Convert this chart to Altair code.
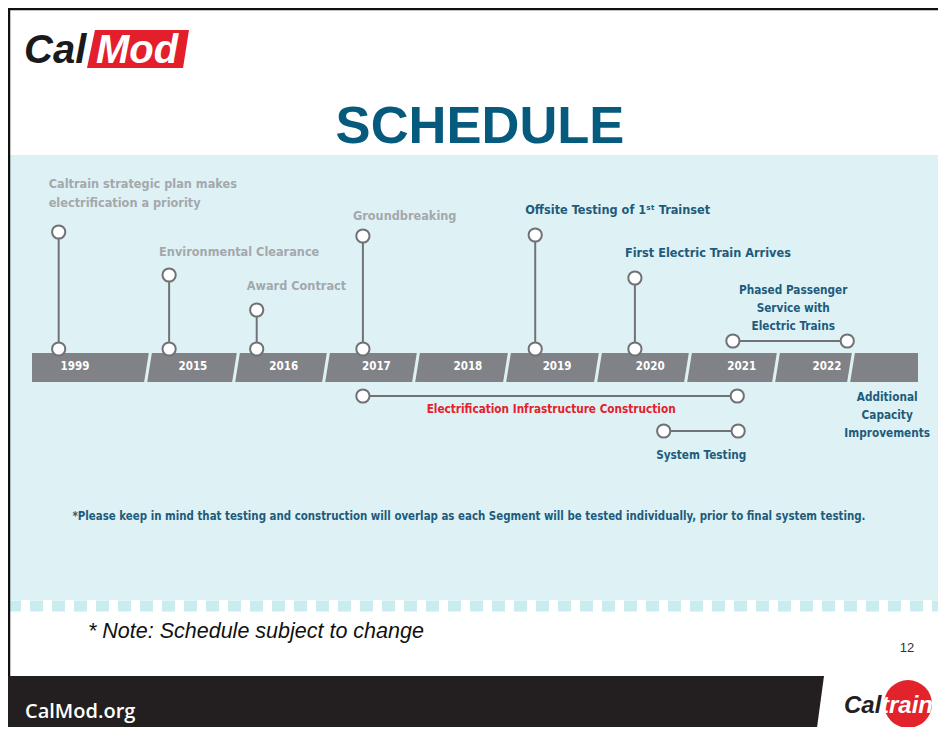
import altair as alt
import pandas as pd

# ---------------- values ----------------
YEAR_LABELS = ["1999", "2015", "2016", "2017", "2018", "2019", "2020", "2021", "2022"]
SEGMENT_BREAKS = [2015, 2016, 2017, 2018, 2019, 2020, 2021, 2022, 2023]

MILESTONES = [
    "Caltrain strategic plan makes\nelectrification a priority",
    "Environmental Clearance",
    "Award Contract",
    "Groundbreaking",
    "Offsite Testing of 1\u02e2\u1d57 Trainset",
    "First Electric Train Arrives",
]
MILESTONE_DATES = [1999.23, 2015.24, 2016.23, 2017.41, 2019.31, 2020.41]
MILESTONE_STATUS = ["done", "done", "done", "done", "upcoming", "upcoming"]

PHASES = [
    "Electrification Infrastructure Construction",
    "System Testing",
    "Phased Passenger\nService with\nElectric Trains",
]
PHASE_START = [2017.41, 2020.73, 2021.51]
PHASE_END = [2021.56, 2021.57, 2022.95]
PHASE_KIND = ["construction", "upcoming", "upcoming"]

FUTURE_LABEL = "Additional\nCapacity\nImprovements"
FUTURE_AT = 2023.54

FOOTNOTE = ("*Please keep in mind that testing and construction will overlap as each "
            "Segment will be tested individually, prior to final system testing.")

# ---------------- layout (slide pixels) ----------------
W, H = 930, 719
OX, OY = 8, 8
SLOT_DOMAIN = [1999, 2000, 2015, 2016, 2017, 2018, 2019, 2020, 2021, 2022, 2023, 2024]
SLOT_PX = [32, 148, 148, 236, 326, 416, 507, 598, 688, 776, 851, 918]
YEAR_LABEL_AT = [1999.37, 2015.51, 2016.53, 2017.56, 2018.57, 2019.55, 2020.58, 2021.61, 2022.68]
BAND_TOP, BAND_BOTTOM, BAND_MID = 353, 382, 367
STEM_BASE = 349
MILESTONE_TOP_Y = [232, 275, 310, 236, 235, 278]
MILESTONE_LABEL_Y = [184, 252, 286, 216, 210, 253]   # first line of each label
PHASE_Y = [396, 431, 341]
PHASE_LABEL_Y = [409, 455, 290]
FUTURE_Y = 397

PANEL = "#def2f5"
GRAY_BAND = "#808287"
STEM = "#707276"
DONE = "#a4a8ac"
BLUE = "#1e5b7c"
RED = "#e4202b"
NARROW = "Liberation Sans Narrow, DejaVu Sans Condensed, Roboto, sans-serif"
SANS = "Liberation Sans, Arial, sans-serif"

PXS = alt.Scale(domain=[OX, OX + W], range=[0, W], nice=False, zero=False)
PYS = alt.Scale(domain=[OY, OY + H], range=[0, H], nice=False, zero=False)
TS = alt.Scale(domain=SLOT_DOMAIN, range=[p - OX for p in SLOT_PX], nice=False, zero=False)


def X(f):
    return alt.X(f"{f}:Q", scale=PXS, axis=None)


def Y(f):
    return alt.Y(f"{f}:Q", scale=PYS, axis=None)


def T(f):
    return alt.X(f"{f}:Q", scale=TS, axis=None)


def label(text, x, y, **kw):
    df = pd.DataFrame({"x": [x], "y": [y], "t": [text]})
    return alt.Chart(df).mark_text(**kw).encode(x=X("x"), y=Y("y"), text="t:N")


def box(x1, x2, y1, y2, color):
    df = pd.DataFrame({"x": [x1], "x2": [x2], "y": [y1], "y2": [y2]})
    return alt.Chart(df).mark_rect(color=color).encode(x=X("x"), x2="x2", y=Y("y"), y2="y2")


def poly(rows, color):
    df = pd.DataFrame(rows, columns=["y", "x", "x2"])
    return alt.Chart(df).mark_area(orient="horizontal", color=color, opacity=1).encode(
        y=Y("y"), x=X("x"), x2="x2")


def hline(x1, x2, y, color, width, dash=None):
    df = pd.DataFrame({"x": [x1], "x2": [x2], "y": [y]})
    kw = dict(color=color, strokeWidth=width)
    if dash:
        kw["strokeDash"] = dash
    return alt.Chart(df).mark_rule(**kw).encode(x=X("x"), x2="x2", y=Y("y"))


def vline(x, y1, y2, color, width):
    df = pd.DataFrame({"x": [x], "y": [y1], "y2": [y2]})
    return alt.Chart(df).mark_rule(color=color, strokeWidth=width).encode(x=X("x"), y=Y("y"), y2="y2")


layers = []
# background panel and striped edge
layers.append(box(OX, OX + W, 155, 600, PANEL))
layers.append(hline(OX, OX + W, 606, "#c9ecef", 11, [13, 9]))
# slide frame
layers.append(vline(9, OY, 676, "#111111", 2.5))
layers.append(hline(OX, OX + W, 9, "#111111", 2.5))

# CalMod logo
layers.append(poly([(30, 95, 189), (68, 87, 183)], "#e21f2b"))
layers.append(label("Cal", 24, 63, font=SANS, fontSize=40, fontWeight="bold", fontStyle="italic",
                    color="#1a1a1a", align="left", baseline="alphabetic"))
layers.append(label("Mod", 96, 63, font=SANS, fontSize=40, fontWeight="bold", fontStyle="italic",
                    color="white", align="left", baseline="alphabetic"))

# title
layers.append(label("SCHEDULE", 480, 143, font=SANS, fontSize=52.5, fontWeight="bold",
                    color="#055a7e", align="center", baseline="alphabetic"))

# timeline band
band = pd.DataFrame({"t1": [SLOT_DOMAIN[0]], "t2": [SLOT_DOMAIN[-1]], "y1": [BAND_TOP], "y2": [BAND_BOTTOM]})
layers.append(alt.Chart(band).mark_rect(color=GRAY_BAND).encode(x=T("t1"), x2="t2", y=Y("y1"), y2="y2"))
seps = pd.DataFrame({"t": SEGMENT_BREAKS, "y1": BAND_TOP - 1, "y2": BAND_BOTTOM + 1})
layers.append(alt.Chart(seps).mark_rule(color=PANEL, strokeWidth=3, xOffset=2.5, x2Offset=-2.5).encode(
    x=T("t"), x2="t", y=Y("y1"), y2="y2"))
yl = pd.DataFrame({"at": YEAR_LABEL_AT, "y": BAND_MID, "t": YEAR_LABELS})
layers.append(alt.Chart(yl).mark_text(font=NARROW, fontSize=11.5, fontWeight="bold", color="white",
                                      align="center", baseline="middle").encode(
    x=T("at"), y=Y("y"), text="t:N"))

# milestones
ms = pd.DataFrame({"date": MILESTONE_DATES, "top": MILESTONE_TOP_Y, "base": STEM_BASE,
                   "ly": MILESTONE_LABEL_Y, "t": MILESTONES, "status": MILESTONE_STATUS})
status_color = alt.Color("status:N", scale=alt.Scale(domain=["done", "upcoming", "construction"],
                                                     range=[DONE, BLUE, RED]), legend=None)
layers.append(alt.Chart(ms).mark_rule(color=STEM, strokeWidth=2).encode(x=T("date"), y=Y("top"), y2="base"))

# phases
ph = pd.DataFrame({"start": PHASE_START, "end": PHASE_END, "y": PHASE_Y, "ly": PHASE_LABEL_Y,
                   "t": PHASES, "status": PHASE_KIND})
layers.append(alt.Chart(ph).mark_rule(color=STEM, strokeWidth=2).encode(x=T("start"), x2="end", y=Y("y")))

# circles
circ = pd.concat([
    pd.DataFrame({"at": MILESTONE_DATES, "y": MILESTONE_TOP_Y}),
    pd.DataFrame({"at": MILESTONE_DATES, "y": STEM_BASE}),
    pd.DataFrame({"at": PHASE_START, "y": PHASE_Y}),
    pd.DataFrame({"at": PHASE_END, "y": PHASE_Y}),
], ignore_index=True)
layers.append(alt.Chart(circ).mark_point(shape="circle", filled=True, fill="white", stroke=STEM,
                                         strokeWidth=2, size=175, opacity=1, fillOpacity=1).encode(
    x=T("at"), y=Y("y")))

# labels
layers.append(alt.Chart(ms).mark_text(font=NARROW, fontSize=12.6, fontWeight="bold", align="left",
                                      baseline="middle", dx=-10, lineBreak="\n", lineHeight=19).encode(
    x=T("date"), y=Y("ly"), text="t:N", color=status_color))
layers.append(alt.Chart(ph).transform_calculate(mid="(datum.start + datum.end) / 2").mark_text(
    font=NARROW, fontSize=11.7, fontWeight="bold", align="center", baseline="middle",
    lineBreak="\n", lineHeight=18).encode(x=T("mid"), y=Y("ly"), text="t:N", color=status_color))
fut = pd.DataFrame({"at": [FUTURE_AT], "y": [FUTURE_Y], "t": [FUTURE_LABEL]})
layers.append(alt.Chart(fut).mark_text(font=NARROW, fontSize=11.7, fontWeight="bold", align="center",
                                       baseline="middle", lineBreak="\n", lineHeight=18, color=BLUE).encode(
    x=T("at"), y=Y("y"), text="t:N"))

# footnote, note, page number
layers.append(label(FOOTNOTE, 469, 517, font=NARROW, fontSize=11.4, fontWeight="bold", color=BLUE,
                    align="center", baseline="middle"))
layers.append(label("* Note: Schedule subject to change", 88, 632, font=SANS, fontSize=21.5,
                    fontStyle="italic", color="#111111", align="left", baseline="middle"))
layers.append(label("12", 907, 648, font=SANS, fontSize=13, color="#333333", align="center",
                    baseline="middle"))

# footer
layers.append(poly([(676, OX, 824), (735, OX, 816)], "#231f20"))
layers.append(label("CalMod.org", 25, 712, font="Open Sans, sans-serif", fontSize=20, fontWeight=600,
                    color="white", align="left", baseline="middle"))
cdf = pd.DataFrame({"x": [908], "y": [704]})
layers.append(alt.Chart(cdf).mark_circle(color="#e2232b", size=2290, opacity=1).encode(x=X("x"), y=Y("y")))
layers.append(label("Cal", 844, 713, font=SANS, fontSize=24, fontWeight="bold", fontStyle="italic",
                    color="#231f20", align="left", baseline="alphabetic"))
layers.append(label("train", 881, 713, font=SANS, fontSize=24, fontWeight="bold", fontStyle="italic",
                    color="white", align="left", baseline="alphabetic"))

chart = alt.layer(*layers).resolve_scale(x="independent").properties(
    width=W, height=H, padding=0, background="white",
    autosize=alt.AutoSizeParams(type="none"),
).configure_view(stroke=None)

chart.save("out.html", embed_options={"renderer": "svg", "actions": False})
